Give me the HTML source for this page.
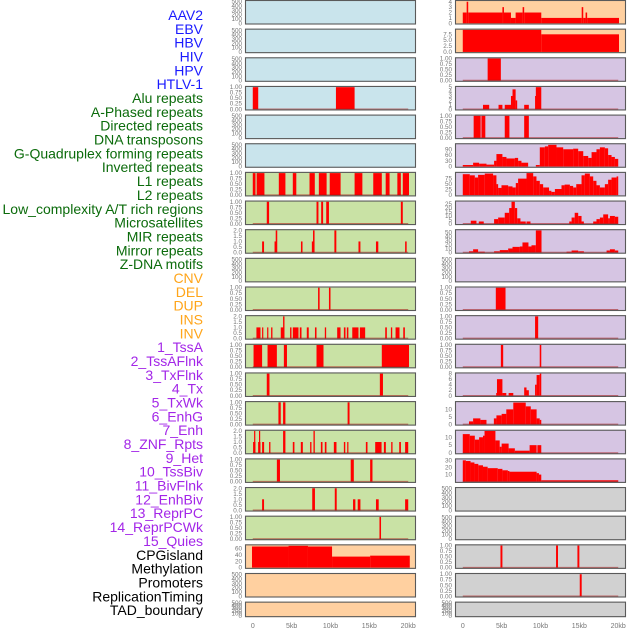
<!DOCTYPE html>
<html><head><meta charset="utf-8">
<style>
html,body{margin:0;padding:0;background:#fff;}
svg{display:block;}
</style></head>
<body>
<svg id="chart" width="630" height="630" viewBox="0 0 630 630" xmlns="http://www.w3.org/2000/svg" font-family="Liberation Sans, sans-serif"></svg>
<script>
const trackLabels = ["AAV2","EBV","HBV","HIV","HPV","HTLV-1","Alu repeats","A-Phased repeats","Directed repeats","DNA transposons","G-Quadruplex forming repeats","Inverted repeats","L1 repeats","L2 repeats","Low_complexity A/T rich regions","Microsatellites","MIR repeats","Mirror repeats","Z-DNA motifs","CNV","DEL","DUP","INS","INV","1_TssA","2_TssAFlnk","3_TxFlnk","4_Tx","5_TxWk","6_EnhG","7_Enh","8_ZNF_Rpts","9_Het","10_TssBiv","11_BivFlnk","12_EnhBiv","13_ReprPC","14_ReprPCWk","15_Quies","CPGisland","Methylation","Promoters","ReplicationTiming","TAD_boundary"];
const labelColors = ["#1a1aff","#1a1aff","#1a1aff","#1a1aff","#1a1aff","#1a1aff","#0b6b0b","#0b6b0b","#0b6b0b","#0b6b0b","#0b6b0b","#0b6b0b","#0b6b0b","#0b6b0b","#0b6b0b","#0b6b0b","#0b6b0b","#0b6b0b","#0b6b0b","#ffa51a","#ffa51a","#ffa51a","#ffa51a","#ffa51a","#a326e8","#a326e8","#a326e8","#a326e8","#a326e8","#a326e8","#a326e8","#a326e8","#a326e8","#a326e8","#a326e8","#a326e8","#a326e8","#a326e8","#a326e8","#000","#000","#000","#000","#000"];
const xTicks = [0,5,10,15,20];
const xTickLabels = ["0","5kb","10kb","15kb","20kb"];

// series: [startKb, endKb, value]
const L3 = [[0,0.7,1],[10.7,13.1,1]];
const L6 = [[0,0.35,1],[0.5,1.5,1],[3.35,4.2,1],[5.15,5.6,1],[7.3,7.98,1],[8.5,9.5,1],[9.9,11.3,1],[13.1,14.1,1],[15.5,16.6,1],[17.1,17.6,1],[18.6,19.05,1],[19.3,20.1,1]];
const L7 = [[1.8,2.1,1],[8.2,8.45,1],[8.8,9.05,1],[9.45,9.8,1],[19.05,19.3,1]];
const L8 = [[1.2,1.45,1],[2.8,3.0,1],[2.95,3.15,2],[6.2,6.4,1],[7.6,7.8,1],[7.75,7.95,2],[10.5,10.75,2],[13.6,13.85,1],[15.85,16.15,1],[19.6,19.8,1]];
const L10 = [[8.4,8.6,1],[9.8,10.0,1]];
const L11 = [[0.47,0.99,1],[1.2,1.33,1],[1.85,2.0,1],[2.36,2.53,1],[3.6,4.03,1],[3.9,4.08,2],[4.8,4.98,1],[5.15,5.88,1],[6.05,6.27,1],[6.95,7.2,1],[8.0,8.2,1],[9.27,9.44,1],[10.86,11.29,1],[11.72,11.93,1],[12.1,12.3,1],[12.8,13.6,1],[13.78,14.46,1],[17.04,17.25,1],[17.77,17.94,1],[18.37,18.88,1],[19.36,19.57,1]];
const L12 = [[0.1,1.2,1],[1.9,3.1,1],[4.0,4.4,1],[8.2,9.1,1],[16.6,20.1,1]];
const L13 = [[1.8,2.15,1],[16.35,16.75,1]];
const L14 = [[3.3,3.6,1],[3.9,4.2,1],[12.2,12.45,1]];
const L15 = [[0.04,0.34,1],[0.17,0.3,2],[0.69,0.99,1],[0.8,0.95,2],[1.2,1.46,1],[2.1,2.27,1],[3.9,4.2,2],[5.15,5.36,1],[6.18,6.44,1],[7.38,7.55,1],[7.81,7.98,2],[8.76,8.97,1],[9.27,9.48,1],[10.43,10.77,1],[11.72,11.9,1],[12.15,12.3,1],[14.55,14.76,1],[15.75,16.57,1],[16.87,17.12,1],[17.81,17.98,1],[18.84,19.06,1],[19.6,20,1]];
const L16 = [[3.1,3.5,1],[12.6,13.0,1],[15.1,15.4,1]];
const L17 = [[1.2,1.45,1],[7.65,8.0,2],[10.55,10.8,2],[12.9,13.2,1],[13.5,13.85,1],[15.85,16.2,1],[19.6,20,1]];
const L18 = [[16.3,16.5,1]];
const L19 = [[-0.1,4.6,67],[4.6,7.1,69],[7.1,10.2,67],[10.2,15.1,35],[15.1,20.2,38]];
const R0 = [[0,0.5,2],[0.5,0.7,4],[0.7,5.1,2],[5.1,5.3,3],[5.3,6.2,2],[6.2,6.8,1],[6.8,7.7,2],[7.7,7.9,3],[7.9,10.1,2],[10.1,15.3,1],[15.3,15.5,3],[15.5,15.8,1],[15.8,16.0,2],[16.0,20.1,1]];
const R1 = [[0,10.1,9.4],[10.1,20.1,7.5]];
const R2 = [[3.2,4.9,1]];
const R3 = [[2.6,3.4,1],[4.6,5.1,1],[5.4,6.2,1],[6.2,6.4,3],[6.4,6.8,4.5],[6.8,7.0,2],[7.9,8.5,1],[9.3,9.4,3],[9.4,10.1,5]];
const R4 = [[1.4,2.3,1],[2.4,2.9,1],[5.4,6.0,1],[7.9,8.5,1]];
const R5 = [[0,1.33,8],[1.33,2.1,20],[2.1,3.05,15],[3.05,4.03,10],[4.03,4.33,30],[4.33,5.1,65],[5.1,5.62,50],[5.62,6.7,42],[6.7,7.12,45],[7.12,7.55,30],[7.55,8.41,20],[9.4,9.91,8],[9.91,10.56,100],[10.56,10.99,105],[10.99,12.06,113],[12.06,12.92,100],[12.92,14.2,90],[14.2,14.85,93],[14.85,15.5,80],[15.5,16.14,55],[16.14,16.57,45],[16.57,17.2,75],[17.2,17.64,90],[17.64,18.28,100],[18.28,18.7,95],[18.7,19.14,60],[19.14,19.57,50],[19.57,20,40]];
const R6 = [[0,0.9,95],[0.9,1.55,90],[1.55,1.97,80],[1.97,2.83,92],[2.83,3.9,98],[3.9,4.33,90],[4.33,4.55,50],[4.55,4.98,33],[4.98,5.84,45],[5.84,6.4,40],[6.4,6.82,35],[6.82,7.12,55],[7.12,8.2,75],[8.2,9.06,100],[9.06,9.48,85],[9.48,9.91,65],[9.91,10.34,50],[10.34,11.1,35],[11.1,11.4,20],[11.4,11.85,15],[11.85,12.7,28],[12.7,13.1,45],[13.1,13.78,48],[13.78,14.2,42],[14.2,14.6,35],[14.6,15.28,50],[15.28,15.7,90],[15.7,16.35,98],[16.35,16.78,85],[16.78,17.2,65],[17.2,17.64,45],[17.64,18.28,35],[18.28,18.7,50],[18.7,19.14,70],[19.14,19.79,80],[19.79,20,85]];
const R7 = [[1.03,1.76,4],[2.06,2.7,3],[4.03,4.55,6],[4.55,5.4,8],[5.4,5.97,14],[5.97,6.27,20],[6.27,6.7,28],[6.7,7.0,20],[7.0,7.42,7],[7.42,8.1,3],[8.2,8.71,3],[13.7,14,3],[14,14.4,8],[14.4,14.85,14],[14.85,15.28,10],[15.28,15.58,3],[16.78,17.2,3],[17.2,17.64,6],[17.64,18.07,8],[18.07,18.7,12],[18.7,18.93,7],[18.93,19.57,10],[19.57,20,9]];
const R8 = [[0.8,1.33,3],[1.33,1.97,8],[1.97,2.83,2],[4.03,4.76,3],[4.76,5.84,6],[5.84,6.4,10],[6.4,7.34,14],[7.34,7.68,15],[7.68,8.45,25],[8.45,8.84,15],[8.84,9.4,18],[9.4,10.13,55],[13.35,14,2],[14,14.85,5],[14.85,15.58,3],[18.5,18.93,5],[18.93,19.57,8],[19.57,20,5]];
const R10 = [[4.25,5.5,1]];
const R11 = [[9.3,9.7,1]];
const R12 = [[4.9,5.2,1],[9.9,10.1,1]];
const R13 = [[4.3,4.4,1],[4.4,5.1,6],[5.1,5.6,1],[5.9,6.5,1],[7.9,8.2,3],[8.2,8.5,2],[9.3,9.5,4],[9.5,9.9,7.5],[9.9,10.1,8]];
const R14 = [[0.8,1.33,2],[1.33,2.27,4],[2.27,3.05,3],[4,4.33,4],[4.33,5,6],[5,5.6,7],[5.6,6.5,10],[6.5,8.1,14.5],[8.1,8.75,12],[8.75,9.5,10],[9.5,9.9,4],[9.9,10.1,3]];
const R15 = [[0,0.9,12],[0.9,1.55,11],[1.55,2.1,8.5],[2.1,2.6,10],[2.6,2.8,11],[2.8,4.2,14],[4.2,4.75,8],[4.75,5,4],[5,5.9,6],[5.9,6.7,3],[6.7,8.6,1.5],[8.6,9.5,5],[9.6,10.1,5]];
const R16 = [[0,0.4,30],[0.4,1,29],[1,1.5,27],[1.5,2,25],[2,2.6,23],[2.6,3.2,21],[3.2,4.5,19],[4.5,5.1,18],[5.1,5.8,16],[5.8,6,15],[6,9.5,14],[9.5,9.8,12],[9.8,10.1,10],[10.1,20,2]];
const R19 = [[4.85,5.1,1],[12.0,12.25,1],[14.75,15.0,1]];
const R20 = [[15.05,15.3,1]];

const T500 = [0,100,200,300,400,500], T1 = [0,0.25,0.5,0.75,1], T2 = [0,0.5,1,1.5,2];
const F1 = ["0.00","0.25","0.50","0.75","1.00"], F2 = ["0.0","0.5","1.0","1.5","2.0"];
// panels: [data, ymax, ticks, tickLabels, bg, baseline]
const leftPanels = [
 [null,510,T500,null,"#c9e4ec",0],[null,510,T500,null,"#c9e4ec",0],[null,510,T500,null,"#c9e4ec",0],
 [L3,1,T1,F1,"#c9e4ec",1],[null,510,T500,null,"#c9e4ec",0],[null,510,T500,null,"#c9e4ec",0],
 [L6,1,T1,F1,"#c9e2a5",1],[L7,1,T1,F1,"#c9e2a5",1],[L8,2,T2,F2,"#c9e2a5",1],[null,510,T500,null,"#c9e2a5",0],
 [L10,1,T1,F1,"#c9e2a5",1],[L11,2,T2,F2,"#c9e2a5",1],[L12,1,T1,F1,"#c9e2a5",1],[L13,1,T1,F1,"#c9e2a5",1],
 [L14,1,T1,F1,"#c9e2a5",1],[L15,2,T2,F2,"#c9e2a5",1],[L16,1,T1,F1,"#c9e2a5",1],[L17,2,T2,F2,"#c9e2a5",1],
 [L18,1,T1,F1,"#c9e2a5",1],[L19,70,[0,20,40,60],null,"#ffd0a0",0],[null,510,T500,null,"#ffd0a0",0],[null,510,T500,null,"#ffd0a0",0]];
const rightPanels = [
 [R0,4.1,[0,1,2,3,4],null,"#ffd0a0",0],[R1,9.4,[0,2.5,5,7.5],["0.0","2.5","5.0","7.5"],"#ffd0a0",0],
 [R2,1,T1,F1,"#d6c5e3",1],[R3,5,[0,1,2,3,4,5],null,"#d6c5e3",1],[R4,1,T1,F1,"#d6c5e3",1],
 [R5,115,[0,30,60,90],null,"#d6c5e3",0],[R6,100,[0,25,50,75],null,"#d6c5e3",0],[R7,28,[0,5,10,15,20,25],null,"#d6c5e3",1],
 [R8,55,[0,10,20,30,40,50],null,"#d6c5e3",1],[null,510,T500,null,"#d6c5e3",0],[R10,1,T1,F1,"#d6c5e3",1],
 [R11,1,T1,F1,"#d6c5e3",1],[R12,1,T1,F1,"#d6c5e3",1],[R13,8,[0,2,4,6,8],null,"#d6c5e3",1],
 [R14,14.7,[0,5,10],null,"#d6c5e3",1],[R15,14,[0,5,10],null,"#d6c5e3",1],[R16,31,[10,20,30],null,"#d6c5e3",1],
 [null,510,T500,null,"#d1d1d1",0],[null,510,T500,null,"#d1d1d1",0],[R19,1,T1,F1,"#d1d1d1",1],[R20,1,T1,F1,"#d1d1d1",1],[null,510,T500,null,"#d1d1d1",0]];

const svg = document.getElementById('chart');
const NS = 'http://www.w3.org/2000/svg';
function mk(tag, attrs, parent){ const e=document.createElementNS(NS,tag); for(const k in attrs) e.setAttribute(k,attrs[k]); (parent||svg).appendChild(e); return e; }

trackLabels.forEach((t,i)=>{
  const e = mk('text',{x:203,y:20+i*13.84,'text-anchor':'end','font-size':14,fill:labelColors[i]});
  e.textContent = t;
  
  
});

const PW = 171;
function xScale(x0, kb){ return x0 + (kb+1)*PW/22; }
function drawPanel(p, i, x0, side){
  const [data,ymax,ticks,tl,bg,base] = p;
  const top = i*28.65;
  const h = (i===21) ? 15.5 : 24.5;
  const bottom = top+h;
  const yScale = v => (bottom-1.2) - v/ymax*(h-2.4);
  const g = mk('g',{});
  
  
  mk('rect',{x:x0,y:top,width:PW,height:h,fill:bg},g);
  if(data){
    data.forEach(d=>{
      const xa=xScale(x0,Math.max(d[0],-0.9)), xb=xScale(x0,Math.min(d[1],20.9));
      const y=yScale(d[2]);
      const r = mk('rect',{x:xa,y:y,width:Math.max(xb-xa,1.2),height:yScale(0)-y,fill:'#ff0000'},g);
      
      
    });
  }
  if(base){
    mk('line',{x1:xScale(x0,0),x2:xScale(x0,20),y1:yScale(0),y2:yScale(0),stroke:'rgba(170,20,20,0.55)','stroke-width':1.6},g);
  }
  mk('rect',{x:x0+0.5,y:top+0.5,width:PW-1,height:h-1,fill:'none',stroke:'#5a5a5a','stroke-width':1.1},g);
  ticks.forEach((t,k)=>{
    const e = mk('text',{x:x0-3,y:yScale(t)+2,'text-anchor':'end','font-size':6.3,fill:'#777'},g);
    e.textContent = tl ? tl[k] : String(t);
    
    
  });
}
leftPanels.forEach((p,i)=>drawPanel(p,i,245,'left'));
rightPanels.forEach((p,i)=>drawPanel(p,i,455,'right'));

[245,455].forEach(x0=>{
  xTicks.forEach((t,k)=>{
    const e = mk('text',{x:xScale(x0,t),y:628,'text-anchor':'middle','font-size':7,fill:'#777'});
    e.textContent = xTickLabels[k];
    
    
  });
});
</script>
</body></html>
